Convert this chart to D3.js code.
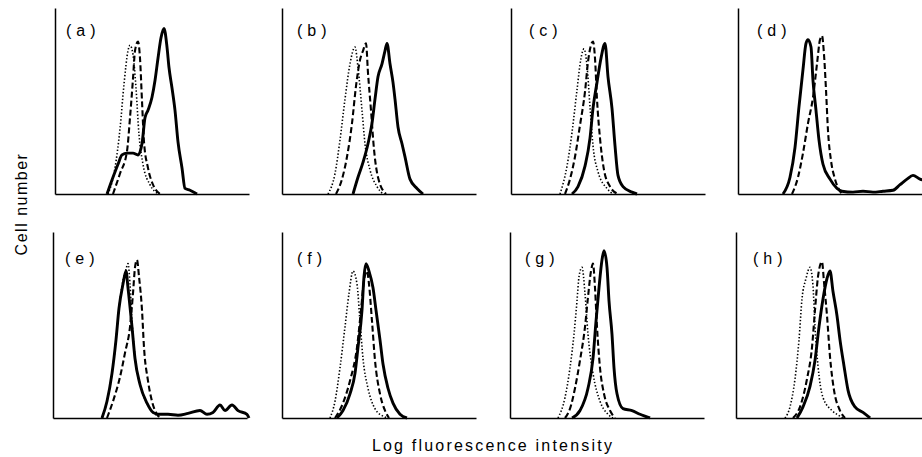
<!DOCTYPE html>
<html>
<head>
<meta charset="utf-8">
<script src="https://cdn.jsdelivr.net/npm/d3@7"></script>
<style>
  html, body { margin: 0; padding: 0; background: #fff; }
  svg { display: block; }
  .domain { stroke: #000; stroke-width: 1.5px; }
  .label { font-family: "Liberation Sans", Arial, sans-serif; font-size: 16px; fill: #000; }
</style>
</head>
<body>
<svg id="chart" width="922" height="457"></svg>
<script>
// histogram values: [channel, relative cell count]
const aDotted = [[53,0],[60,14],[65,35],[69,59],[73,77],[75,80],[78,75],[81,57],[84,32],[88,16],[95,5],[104,0]];
const aDashed = [[58,0],[65,11],[72,23],[75,41],[78,62],[80,77],[83,82],[85,73],[87,50],[89,28],[93,14],[98,5],[105,0]];
const aSolid = [[52,0],[58,9],[63,16],[67,21],[72,22],[78,22],[83,21],[87,27],[90,41],[93,45],[97,52],[100,61],[103,73],[106,84],[109,89],[112,79],[114,68],[117,57],[120,45],[123,28],[127,14],[130,3],[135,2],[142,0]];

const bDotted = [[46,0],[53,11],[58,29],[63,51],[68,70],[73,79],[76,68],[80,45],[83,27],[88,13],[95,4],[101,0]];
const bDashed = [[54,0],[60,8],[65,20],[70,38],[74,58],[78,72],[81,77],[84,81],[86,65],[89,45],[92,24],[96,9],[104,0]];
const bSolid = [[71,0],[76,9],[81,17],[86,27],[90,38],[93,51],[96,63],[100,70],[103,77],[105,81],[108,70],[111,60],[113,51],[116,36],[120,27],[123,20],[128,8],[135,3],[141,0]];

const cDotted = [[49,0],[56,15],[61,33],[66,56],[70,73],[73,78],[76,69],[79,47],[82,26],[87,12],[96,3],[102,0]];
const cDashed = [[54,0],[59,8],[64,20],[69,37],[74,55],[77,71],[82,82],[84,73],[86,51],[89,30],[93,13],[99,4],[107,0]];
const cSolid = [[61,0],[67,4],[74,15],[79,30],[82,46],[86,60],[90,73],[94,81],[97,63],[101,46],[104,26],[107,10],[112,4],[121,1],[126,0]];

const dDashed = [[54,0],[60,9],[65,22],[70,38],[75,52],[79,70],[82,83],[84,85],[86,75],[88,56],[90,34],[93,18],[97,8],[104,0]];
const dSolid = [[45,0],[52,9],[57,25],[61,47],[65,67],[68,81],[70,83],[73,79],[75,61],[78,45],[81,29],[85,16],[92,8],[99,3],[104,1.5],[115,1],[125,1.5],[135,1],[145,1.5],[155,2],[162,5],[169,8],[175,10],[182,8],[190,7]];

const eDotted = [[49,0],[54,9],[59,24],[63,42],[66,59],[70,74],[73,80],[75,83],[77,72],[79,52],[82,33],[87,18],[94,8],[100,3],[105,1],[108,0]];
const eDashed = [[54,0],[60,9],[67,22],[72,35],[77,49],[80,67],[82,81],[84,85],[86,76],[89,58],[91,38],[95,20],[99,9],[104,2],[107,0]];
const eSolid = [[49,0],[54,9],[59,24],[63,42],[66,59],[70,72],[73,79],[75,70],[79,49],[82,32],[87,18],[94,8],[100,3],[105,2],[115,2],[125,1.5],[135,2.5],[147,4],[154,2],[160,3],[167,7],[172,4],[179,7],[185,4],[194,2],[196,0]];

const fDotted = [[48,0],[53,9],[58,27],[63,49],[67,67],[71,79],[75,72],[78,52],[81,32],[86,16],[93,5],[101,1],[105,0]];
const fDashed = [[53,0],[61,8],[68,20],[75,38],[79,58],[82,74],[85,79],[87,72],[90,52],[93,31],[98,13],[103,4],[107,0]];
const fSolid = [[55,0],[61,4],[68,13],[73,24],[76,38],[80,58],[82,76],[84,83],[87,79],[91,70],[94,58],[98,42],[101,29],[106,16],[111,8],[118,2],[125,0]];

const gDotted = [[48,0],[55,11],[60,27],[64,45],[67,63],[69,76],[72,81],[75,67],[78,45],[83,24],[90,9],[98,2],[103,0]];
const gDashed = [[55,0],[60,5],[65,16],[70,31],[75,49],[78,65],[81,79],[83,83],[85,70],[87,49],[90,27],[94,13],[100,4],[105,0]];
const gSolid = [[62,0],[70,4],[78,16],[83,32],[86,52],[89,70],[92,85],[94,90],[97,81],[99,63],[102,45],[104,27],[107,13],[113,5],[122,4],[130,2],[140,0]];

const hDotted = [[49,0],[54,6],[59,21],[63,42],[66,64],[70,75],[74,81],[77,71],[79,49],[82,28],[87,11],[96,4],[104,1],[107,0]];
const hDashed = [[57,0],[64,6],[71,21],[76,38],[79,58],[82,76],[86,84],[88,73],[91,55],[94,33],[98,15],[104,4],[109,0]];
const hSolid = [[61,0],[67,6],[74,17],[79,31],[83,49],[87,64],[91,75],[94,79],[97,68],[101,55],[104,42],[108,28],[112,15],[119,6],[127,3],[134,0]];

const panelLabels = ["a", "b", "c", "d", "e", "f", "g", "h"];
const panelSeries = [
    { dotted: aDotted, dashed: aDashed, solid: aSolid },
    { dotted: bDotted, dashed: bDashed, solid: bSolid },
    { dotted: cDotted, dashed: cDashed, solid: cSolid },
    { dotted: null,    dashed: dDashed, solid: dSolid },
    { dotted: eDotted, dashed: eDashed, solid: eSolid },
    { dotted: fDotted, dashed: fDashed, solid: fSolid },
    { dotted: gDotted, dashed: gDashed, solid: gSolid },
    { dotted: hDotted, dashed: hDashed, solid: hSolid }
];

// layout
const colX = [[55, 282, 511, 738], [53, 282, 510, 736]];
const rowTop = [8, 232];
const panelW = 194;
const panelH = 186;
const labelDx = [11, 15, 18, 19, 12, 15, 15, 17];
const labelDy = [28, 32];

const styles = {
    dotted: { width: 1.6, dash: "1.4,2" },
    dashed: { width: 2.1, dash: "6,3" },
    solid:  { width: 2.9, dash: null }
};

const svg = d3.select("#chart");
svg.append("rect").attr("width", 922).attr("height", 457).attr("fill", "#fff");

const x = d3.scaleLinear().domain([0, panelW]).range([0, panelW]);
const y = d3.scaleLinear().domain([0, 100]).range([panelH, 0]);

const line = d3.line()
    .x(d => x(d[0]))
    .y(d => y(d[1]))
    .curve(d3.curveMonotoneX);

panelLabels.forEach((name, i) => {
    const row = Math.floor(i / 4);
    const col = i % 4;
    const g = svg.append("g")
        .attr("transform", `translate(${colX[row][col]},${rowTop[row]})`);

    g.append("g")
        .attr("transform", `translate(0,${panelH})`)
        .call(d3.axisBottom(x).tickValues([]).tickSizeOuter(0));
    g.append("g")
        .call(d3.axisLeft(y).tickValues([]).tickSizeOuter(0));

    ["dotted", "dashed", "solid"].forEach(key => {
        const data = panelSeries[i][key];
        if (!data) return;
        g.append("path")
            .datum(data)
            .attr("d", line)
            .attr("fill", "none")
            .attr("stroke", "#000")
            .attr("stroke-width", styles[key].width)
            .attr("stroke-linejoin", "round")
            .attr("stroke-dasharray", styles[key].dash);
    });

    g.append("text")
        .attr("class", "label")
        .attr("x", labelDx[i])
        .attr("y", labelDy[row])
        .attr("font-size", "17px")
        .attr("letter-spacing", "5px")
        .text(`(${name})`);
});

svg.append("text")
    .attr("class", "label")
    .attr("transform", "translate(27,204) rotate(-90)")
    .attr("text-anchor", "middle")
    .attr("letter-spacing", "1.5px")
    .text("Cell number");

svg.append("text")
    .attr("class", "label")
    .attr("x", 493)
    .attr("y", 451)
    .attr("text-anchor", "middle")
    .attr("letter-spacing", "2.2px")
    .text("Log fluorescence intensity");
</script>
</body>
</html>
